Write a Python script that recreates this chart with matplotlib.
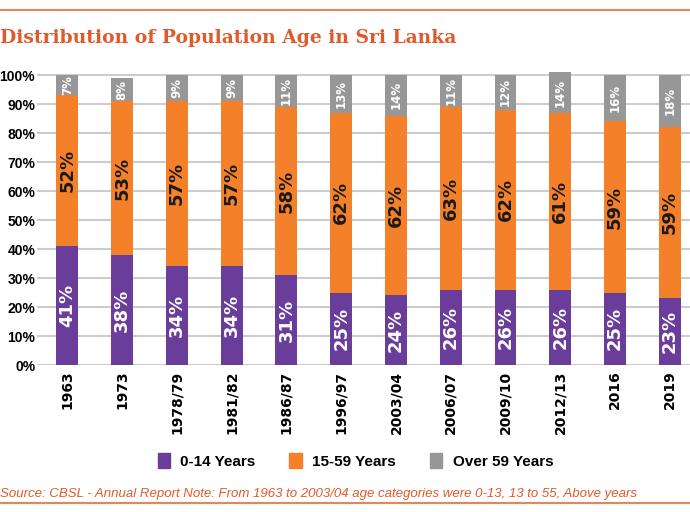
import numpy as np
import matplotlib.pyplot as plt

years = ['1963', '1973', '1978/79', '1981/82', '1986/87', '1996/97', '2003/04',
         '2006/07', '2009/10', '2012/13', '2016', '2019']
young = [41, 38, 34, 34, 31, 25, 24, 26, 26, 26, 25, 23]
working = [52, 53, 57, 57, 58, 62, 62, 63, 62, 61, 59, 59]
old = [7, 8, 9, 9, 11, 13, 14, 11, 12, 14, 16, 18]

c_young = '#6a3d9a'
c_work = '#f5802a'
c_old = '#979797'
c_title = '#e05a2b'

fig = plt.figure(figsize=(6.9, 5.12), dpi=100)
ax = fig.add_axes([0.054, 0.287, 0.946, 0.572])

x = np.arange(len(years))
w = 0.4
young = np.array(young)
working = np.array(working)
old = np.array(old)

ax.bar(x, young, w, color=c_young, zorder=3)
ax.bar(x, working, w, bottom=young, color=c_work, zorder=3)
ax.bar(x, old, w, bottom=young + working, color=c_old, zorder=3)

for i in range(len(years)):
    ax.text(x[i], young[i] / 2, f'{young[i]}%', rotation=90, ha='center', va='center',
            color='white', fontsize=13, fontweight='bold', zorder=4)
    ax.text(x[i], young[i] + working[i] / 2, f'{working[i]}%', rotation=90, ha='center',
            va='center', color='#1a1a1a', fontsize=13, fontweight='bold', zorder=4)
    ax.text(x[i], young[i] + working[i] + old[i] / 2, f'{old[i]}%', rotation=90,
            ha='center', va='center', color='white', fontsize=8.5, fontweight='bold', zorder=4)

ax.set_xlim(-0.55, 11.37)
ax.set_ylim(0, 101)
ax.set_yticks(range(0, 101, 10))
ax.set_yticklabels([f'{v}%' for v in range(0, 101, 10)], fontsize=10, fontweight='bold',
                   family='Liberation Sans')
ax.set_xticks(x)
ax.set_xticklabels(years, rotation=90, fontsize=10, fontweight='bold')
ax.tick_params(axis='y', length=0, pad=1.5)
ax.tick_params(axis='x', length=0, pad=4)
ax.grid(axis='y', color='#cccccc', linewidth=1.5, zorder=0)
for s in ax.spines.values():
    s.set_visible(False)

fig.text(0.0, 0.925, 'Distribution of Population Age in Sri Lanka', color=c_title,
         fontsize=13.5, fontweight='bold', family='DejaVu Serif', va='center')
fig.add_artist(plt.Line2D([0, 1], [0.98, 0.98], color='#e8835a', linewidth=1.5))
fig.add_artist(plt.Line2D([0, 1], [0.018, 0.018], color='#e8835a', linewidth=1.5))

handles = [plt.Rectangle((0, 0), 1, 1, color=c) for c in (c_young, c_work, c_old)]
fig.legend(handles, ['0-14 Years', '15-59 Years', 'Over 59 Years'], loc='center',
           bbox_to_anchor=(0.515, 0.1), ncol=3, frameon=False, handlelength=0.8,
           handleheight=1.2, columnspacing=2.2, handletextpad=0.7,
           prop={'size': 11, 'weight': 'bold', 'family': 'Liberation Sans'})

fig.text(0.0, 0.036, 'Source: CBSL - Annual Report Note: From 1963 to 2003/04 age categories '
         'were 0-13, 13 to 55, Above years', color=c_title, fontsize=9.5, style='italic',
         family='Liberation Sans', va='center')

fig.savefig('out.png', dpi=100)
